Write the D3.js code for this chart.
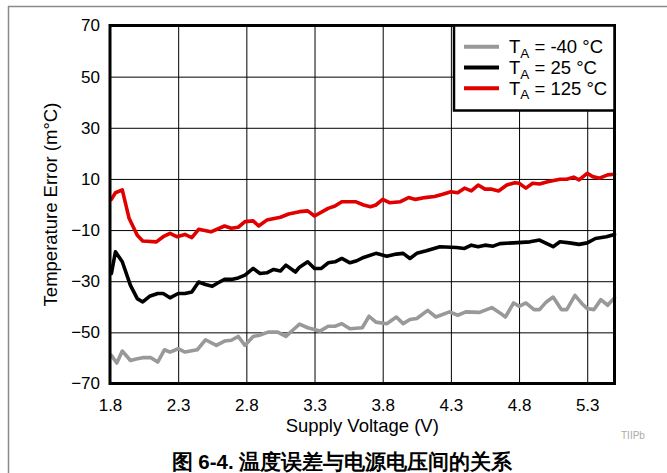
<!DOCTYPE html>
<html>
<head>
<meta charset="utf-8">
<script src="https://cdn.jsdelivr.net/npm/d3@7"></script>
<style>
  html, body { margin: 0; padding: 0; background: #fff; }
  svg { display: block; }
  text { font-family: "Liberation Sans", Arial, Helvetica, sans-serif; }
</style>
</head>
<body>
<svg id="chart" width="667" height="473"></svg>
<script>
// Supply voltage (V) and temperature error (m°C) for each ambient temperature
const vMinus40 = [1.81, 1.85, 1.89, 1.95, 2.00, 2.04, 2.10, 2.15, 2.20, 2.24, 2.30, 2.35, 2.44, 2.50, 2.58, 2.64, 2.69, 2.74, 2.79, 2.85, 2.89, 2.96, 3.03, 3.09, 3.16, 3.19, 3.25, 3.34, 3.40, 3.45, 3.50, 3.56, 3.65, 3.70, 3.75, 3.83, 3.90, 3.95, 4.00, 4.05, 4.13, 4.19, 4.29, 4.35, 4.41, 4.51, 4.60, 4.66, 4.70, 4.76, 4.80, 4.85, 4.91, 4.95, 5.00, 5.05, 5.11, 5.15, 5.21, 5.26, 5.30, 5.35, 5.40, 5.45, 5.50];
const tMinus40 = [-59, -62, -57.3, -61, -60.3, -59.9, -59.9, -61.6, -56.8, -57.7, -56.4, -57.7, -56.8, -52.9, -55.1, -53.4, -53.1, -51.6, -55.1, -51.6, -51.2, -49.9, -49.9, -51.6, -48.2, -46.8, -48.2, -49.5, -47.6, -47.6, -46.6, -48.6, -48.2, -43.7, -46.0, -46.6, -44.0, -46.6, -45.0, -44.6, -41.4, -44.0, -42.0, -43.3, -42.0, -42.2, -40.3, -42.4, -44.0, -38.5, -39.8, -38.5, -41.1, -41.1, -38.1, -36.2, -41.1, -41.1, -35.5, -38.7, -40.7, -41.1, -37.2, -39.4, -36.4];

const v25 = [1.81, 1.84, 1.89, 1.95, 2.00, 2.04, 2.09, 2.15, 2.19, 2.24, 2.30, 2.35, 2.40, 2.45, 2.50, 2.55, 2.59, 2.64, 2.69, 2.74, 2.79, 2.85, 2.90, 2.95, 3.00, 3.05, 3.09, 3.16, 3.19, 3.25, 3.30, 3.35, 3.40, 3.45, 3.50, 3.56, 3.61, 3.66, 3.75, 3.83, 3.90, 3.95, 4.00, 4.05, 4.12, 4.22, 4.34, 4.40, 4.45, 4.50, 4.55, 4.61, 4.66, 4.76, 4.88, 4.95, 5.00, 5.05, 5.10, 5.17, 5.24, 5.30, 5.36, 5.44, 5.50];
const t25 = [-27, -18.5, -22.4, -31.6, -36.8, -38.1, -35.9, -34.8, -34.8, -36.5, -34.8, -34.8, -34.2, -30.3, -31.3, -32.0, -30.7, -29.3, -29.3, -28.7, -27.6, -25.0, -27.0, -26.7, -25.4, -26.0, -23.7, -26.4, -24.5, -22.4, -25.0, -25.0, -22.8, -22.4, -21.1, -22.8, -22.0, -20.7, -19.1, -20.2, -19.4, -19.1, -21.1, -19.1, -18.1, -16.5, -16.8, -17.2, -15.9, -16.5, -15.9, -16.3, -15.3, -15.0, -14.6, -13.9, -15.2, -16.5, -14.6, -15.0, -15.6, -15.0, -13.3, -12.6, -11.7];

const v125 = [1.81, 1.84, 1.89, 1.94, 2.00, 2.04, 2.14, 2.19, 2.24, 2.29, 2.35, 2.40, 2.45, 2.54, 2.64, 2.69, 2.74, 2.79, 2.85, 2.89, 2.95, 3.05, 3.11, 3.19, 3.25, 3.30, 3.40, 3.45, 3.50, 3.60, 3.66, 3.71, 3.75, 3.80, 3.85, 3.93, 3.99, 4.04, 4.11, 4.18, 4.24, 4.30, 4.35, 4.40, 4.45, 4.50, 4.55, 4.60, 4.65, 4.71, 4.77, 4.80, 4.85, 4.90, 4.95, 5.01, 5.10, 5.15, 5.20, 5.24, 5.30, 5.34, 5.39, 5.45, 5.50];
const t125 = [2.0, 4.6, 5.7, -5.4, -12.0, -14.3, -14.6, -12.6, -11.3, -12.6, -11.7, -13.0, -9.7, -10.7, -8.4, -9.3, -8.9, -6.7, -6.4, -8.4, -6.1, -5.0, -3.7, -2.8, -2.5, -4.5, -1.5, -0.6, 1.1, 1.1, -0.2, -0.9, -0.2, 2.0, 0.7, 1.1, 2.7, 2.0, 2.7, 3.1, 4.0, 5.0, 4.6, 6.4, 5.3, 7.6, 6.0, 6.0, 5.3, 7.6, 8.5, 8.3, 6.4, 8.3, 8.0, 8.9, 9.9, 9.9, 10.7, 9.6, 12.2, 10.9, 10.3, 11.6, 11.8];

const xTicks = [1.8, 2.3, 2.8, 3.3, 3.8, 4.3, 4.8, 5.3];
const yTicks = [-70, -50, -30, -10, 10, 30, 50, 70];
const seriesNames = ["-40 °C", "25 °C", "125 °C"];
const seriesColors = ["#999999", "#000000", "#e00000"];

const xLabel = "Supply Voltage (V)";
const yLabel = "Temperature Error (m°C)";
const caption = "图 6-4. 温度误差与电源电压间的关系";
const docMark = "TIIPb";

const series = [
  { name: seriesNames[0], color: seriesColors[0], pts: vMinus40.map((v, i) => [v, tMinus40[i]]) },
  { name: seriesNames[1], color: seriesColors[1], pts: v25.map((v, i) => [v, t25[i]]) },
  { name: seriesNames[2], color: seriesColors[2], pts: v125.map((v, i) => [v, t125[i]]) }
];

const svg = d3.select("#chart");
const plotL = 110, plotR = 614.5, plotT = 25.5, plotB = 383.5;

const x = d3.scaleLinear().domain([1.8, 5.5]).range([plotL, plotR]);
const y = d3.scaleLinear().domain([-70, 70]).range([plotB, plotT]);

// page frame lines
svg.append("line").attr("x1", 8).attr("x2", 667).attr("y1", 6.5).attr("y2", 6.5)
  .attr("stroke", "#8a8a8a").attr("stroke-width", 1.5);
svg.append("line").attr("x1", 8.5).attr("x2", 8.5).attr("y1", 6).attr("y2", 473)
  .attr("stroke", "#8a8a8a").attr("stroke-width", 1.5);

// grid
const grid = svg.append("g");
grid.append("g")
  .attr("transform", `translate(0,${plotB})`)
  .call(d3.axisBottom(x).tickValues(xTicks).tickSize(-(plotB - plotT)).tickFormat(""))
  .call(g => g.select(".domain").remove())
  .call(g => g.selectAll("line").attr("stroke", "#000").attr("stroke-width", 1));
grid.append("g")
  .attr("transform", `translate(${plotL},0)`)
  .call(d3.axisLeft(y).tickValues(yTicks).tickSize(-(plotR - plotL)).tickFormat(""))
  .call(g => g.select(".domain").remove())
  .call(g => g.selectAll("line").attr("stroke", "#000").attr("stroke-width", 1));

// tick labels
const xa = svg.append("g")
  .attr("transform", `translate(0,${plotB})`)
  .call(d3.axisBottom(x).tickValues(xTicks).tickSize(0).tickPadding(15).tickFormat(d3.format(".1f")));
xa.select(".domain").remove();
xa.selectAll("text").attr("font-size", 17).attr("fill", "#000")
  .attr("font-family", "Liberation Sans, Arial, sans-serif");

const ya = svg.append("g")
  .attr("transform", `translate(${plotL},0)`)
  .call(d3.axisLeft(y).tickValues(yTicks).tickSize(0).tickPadding(10).tickFormat(d3.format("d")));
ya.select(".domain").remove();
ya.selectAll("text").attr("font-size", 17).attr("fill", "#000")
  .attr("font-family", "Liberation Sans, Arial, sans-serif");

// series lines
const line = d3.line().x(d => x(d[0])).y(d => y(d[1]));
svg.append("g").selectAll("path").data(series).join("path")
  .attr("d", d => line(d.pts))
  .attr("fill", "none")
  .attr("stroke", d => d.color)
  .attr("stroke-width", 3.6)
  .attr("stroke-linejoin", "round")
  .attr("stroke-linecap", "round");

// plot frame
svg.append("rect").attr("x", plotL).attr("y", plotT)
  .attr("width", plotR - plotL).attr("height", plotB - plotT)
  .attr("fill", "none").attr("stroke", "#000").attr("stroke-width", 3);

// legend
const lg = svg.append("g");
lg.append("rect").attr("x", 454).attr("y", plotT).attr("width", plotR - 454).attr("height", 110.5 - plotT)
  .attr("fill", "#fff").attr("stroke", "#000").attr("stroke-width", 2.5);
series.forEach((s, i) => {
  const cy = 46.7 + i * 20.8;
  lg.append("line").attr("x1", 464).attr("x2", 499).attr("y1", cy).attr("y2", cy)
    .attr("stroke", s.color).attr("stroke-width", 4);
  const t = lg.append("text").attr("x", 509).attr("y", cy + 6.5)
    .attr("font-size", 18.5).attr("fill", "#000");
  t.append("tspan").text("T");
  t.append("tspan").text("A").attr("font-size", 13.5).attr("dy", 4.5);
  t.append("tspan").text(" = " + s.name).attr("dy", -4.5);
});

// axis titles
svg.append("text").attr("x", (plotL + plotR) / 2).attr("y", 432)
  .attr("text-anchor", "middle").attr("font-size", 18.5).text(xLabel);
svg.append("text")
  .attr("transform", `translate(57,${(plotT + plotB) / 2}) rotate(-90)`)
  .attr("text-anchor", "middle").attr("font-size", 18.5).text(yLabel);

// document mark and caption
svg.append("text").attr("x", 621).attr("y", 439).attr("font-size", 10)
  .attr("fill", "#aaa").text(docMark);
svg.append("text").attr("x", 342).attr("y", 468.5).attr("text-anchor", "middle")
  .attr("font-size", 20.5).attr("font-weight", "bold")
  .attr("font-family", "Noto Sans CJK SC, Liberation Sans, sans-serif")
  .text(caption);
</script>
</body>
</html>
